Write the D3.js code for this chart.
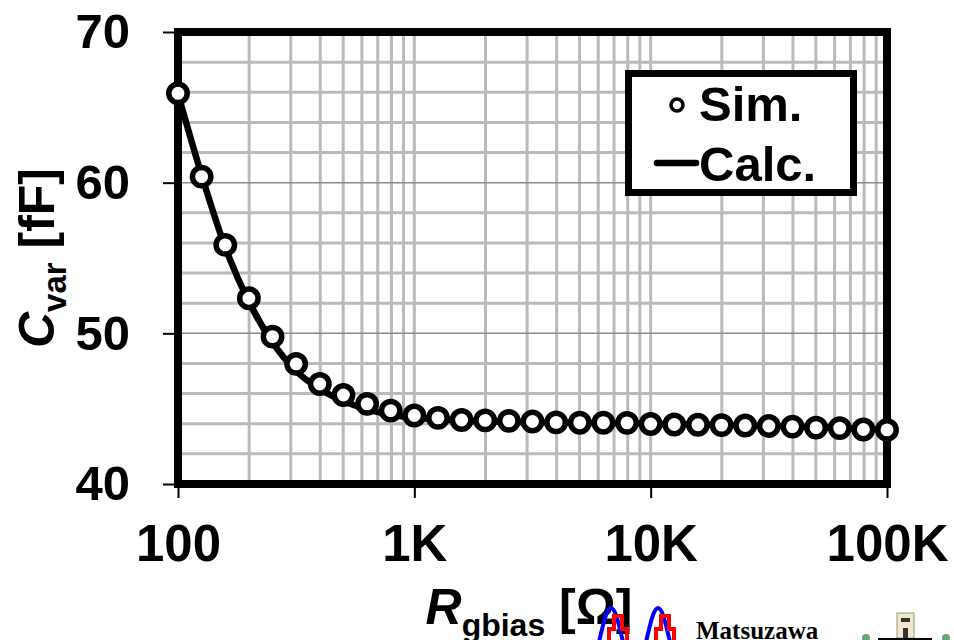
<!DOCTYPE html>
<html>
<head>
<meta charset="utf-8">
<script src="https://cdn.jsdelivr.net/npm/d3@7"></script>
<style>
  body { margin: 0; background: #fff; }
  svg { display: block; font-family: "Liberation Sans", Arial, sans-serif; font-weight: bold; }
</style>
</head>
<body>
<svg id="chart" width="954" height="640"></svg>
<script>
// R_gbias sweep [ohm], 10 points per decade
const rgbias = [100, 125.9, 158.5, 199.5, 251.2, 316.2, 398.1, 501.2, 631.0, 794.3,
  1000, 1259, 1585, 1995, 2512, 3162, 3981, 5012, 6310, 7943,
  10000, 12589, 15849, 19953, 25119, 31623, 39811, 50119, 63096, 79433, 100000];

// simulated Cvar [fF]
const simCvar = [65.93, 60.40, 55.87, 52.33, 49.78, 47.97, 46.64, 45.91, 45.32, 44.87,
  44.55, 44.39, 44.25, 44.22, 44.19, 44.15, 44.09, 44.07, 44.07, 44.06,
  43.98, 43.95, 43.93, 43.91, 43.88, 43.85, 43.81, 43.74, 43.71, 43.62, 43.59];

// calculated Cvar [fF]
const calcCvar = [65.9, 60.5, 55.7, 52.1, 49.4, 47.5, 46.3, 45.5, 44.95, 44.6,
  44.4, 44.3, 44.2, 44.15, 44.12, 44.1, 44.08, 44.06, 44.05, 44.03,
  44.0, 43.97, 43.95, 43.92, 43.88, 43.85, 43.81, 43.76, 43.72, 43.66, 43.6];

const xTicks = [100, 1000, 10000, 100000];
const xTickLabels = ["100", "1K", "10K", "100K"];
const yTicks = [40, 50, 60, 70];

const svg = d3.select("#chart");

const plotLeft = 178, plotRight = 887, plotTop = 32, plotBottom = 484;

const x = d3.scaleLog().domain([100, 100000]).range([plotLeft, plotRight]);
const y = d3.scaleLinear().domain([40, 70]).range([plotBottom, plotTop]);

// grid
let gridX = [];
[100, 1000, 10000].forEach(function (d) {
  for (let k = 2; k <= 9; k++) gridX.push(d * k);
});
gridX = gridX.concat([1000, 10000]);

const gridY = d3.range(42, 70, 2).filter(v => v % 10 !== 0);
const gridYMajor = [50, 60];

const grid = svg.append("g");
grid.selectAll("line.gx")
  .data(gridX)
  .join("line")
  .attr("class", "gx")
  .attr("x1", d => x(d)).attr("x2", d => x(d))
  .attr("y1", plotTop).attr("y2", plotBottom)
  .style("stroke", "#bababa")
  .style("stroke-width", 3);

grid.selectAll("line.gy")
  .data(gridY)
  .join("line")
  .attr("class", "gy")
  .attr("x1", plotLeft).attr("x2", plotRight)
  .attr("y1", d => y(d)).attr("y2", d => y(d))
  .style("stroke", "#bababa")
  .style("stroke-width", 3);

grid.selectAll("line.gym")
  .data(gridYMajor)
  .join("line")
  .attr("class", "gym")
  .attr("x1", plotLeft).attr("x2", plotRight)
  .attr("y1", d => y(d)).attr("y2", d => y(d))
  .style("stroke", "#8a8a8a")
  .style("stroke-width", 1.5);

// axes
const xAxis = d3.axisBottom(x)
  .tickValues(xTicks)
  .tickFormat((d, i) => xTickLabels[i])
  .tickSize(14)
  .tickSizeOuter(0)
  .tickPadding(27);

const yAxis = d3.axisLeft(y)
  .tickValues(yTicks)
  .tickFormat(d3.format("d"))
  .tickSize(15)
  .tickSizeOuter(0)
  .tickPadding(33);

const gx = svg.append("g")
  .attr("transform", "translate(0," + plotBottom + ")")
  .call(xAxis);
gx.select(".domain").remove();
gx.selectAll(".tick line").style("stroke", "#000").style("stroke-width", 2);
gx.selectAll(".tick text")
  .style("font-size", "51px")
  .style("font-family", "'Liberation Sans', Arial, sans-serif")
  .style("font-weight", "bold")
  .style("fill", "#000");

const gy = svg.append("g")
  .attr("transform", "translate(" + plotLeft + ",0)")
  .call(yAxis);
gy.select(".domain").remove();
gy.selectAll(".tick line").style("stroke", "#000").style("stroke-width", 2);
gy.selectAll(".tick text")
  .style("font-size", "49px")
  .style("font-family", "'Liberation Sans', Arial, sans-serif")
  .style("font-weight", "bold")
  .style("fill", "#000");

// plot frame
svg.append("rect")
  .attr("x", plotLeft).attr("y", plotTop)
  .attr("width", plotRight - plotLeft).attr("height", plotBottom - plotTop)
  .style("fill", "none")
  .style("stroke", "#000")
  .style("stroke-width", 8);

// calc line
const line = d3.line()
  .x((d, i) => x(rgbias[i]))
  .y(d => y(d))
  .curve(d3.curveMonotoneX);

svg.append("path")
  .datum(calcCvar)
  .attr("d", line)
  .style("fill", "none")
  .style("stroke", "#000")
  .style("stroke-width", 6.5)
  .style("stroke-linejoin", "round");

// sim points
svg.selectAll("circle.sim")
  .data(simCvar)
  .join("circle")
  .attr("class", "sim")
  .attr("cx", (d, i) => x(rgbias[i]))
  .attr("cy", d => y(d))
  .attr("r", 9.2)
  .style("fill", "#fff")
  .style("stroke", "#000")
  .style("stroke-width", 5.5);

// legend
const lg = svg.append("g");
lg.append("rect")
  .attr("x", 628.5).attr("y", 73.5)
  .attr("width", 225).attr("height", 119)
  .style("fill", "#fff")
  .style("stroke", "#000")
  .style("stroke-width", 7);
lg.append("circle")
  .attr("cx", 677).attr("cy", 105)
  .attr("r", 6)
  .style("fill", "#fff")
  .style("stroke", "#000")
  .style("stroke-width", 3.5);
lg.append("text")
  .attr("x", 699).attr("y", 121)
  .style("font-size", "49px")
  .text("Sim.");
lg.append("line")
  .attr("x1", 657).attr("x2", 696)
  .attr("y1", 163).attr("y2", 163)
  .style("stroke", "#000")
  .style("stroke-width", 6.5)
  .style("stroke-linecap", "round");
lg.append("text")
  .attr("x", 699).attr("y", 181)
  .style("font-size", "49px")
  .text("Calc.");

// axis titles
const xt = svg.append("text")
  .attr("x", 529).attr("y", 624)
  .attr("text-anchor", "middle")
  .style("font-size", "50px");
xt.append("tspan").style("font-style", "italic").text("R");
xt.append("tspan").attr("dy", 12).style("font-size", "32px").text("gbias");
xt.append("tspan").attr("dy", -12).text("\u00a0[\u03a9]");

const yt = svg.append("text")
  .attr("transform", "translate(54,258) rotate(-90)")
  .attr("text-anchor", "middle")
  .style("font-size", "50px");
yt.append("tspan").style("font-style", "italic").text("C");
yt.append("tspan").attr("dy", 12).style("font-size", "33px").text("var");
yt.append("tspan").attr("dy", -12).text("\u00a0[fF]");

// lab logo at the bottom
const logo = svg.append("g");
logo.append("path")
  .attr("d", "M599,642 C604,620 607,608 611,608 C615,608 618,620 623,642 M646,642 C651,620 654,608 658,608 C662,608 665,620 670,642")
  .style("fill", "none")
  .style("stroke", "#0000ff")
  .style("stroke-width", 4);
logo.append("path")
  .attr("d", "M609,642 V629 H614 V616 H622 V629 H627 V642 M656,642 V629 H661 V616 H669 V629 H674 V642")
  .style("fill", "none")
  .style("stroke", "#ff0000")
  .style("stroke-width", 4);
logo.append("text")
  .attr("x", 696).attr("y", 639)
  .style("font-family", "'Liberation Serif', 'Times New Roman', serif")
  .style("font-size", "25px")
  .text("Matsuzawa");
logo.append("rect")
  .attr("x", 897).attr("y", 613).attr("width", 17).attr("height", 25)
  .style("fill", "#efe8cc")
  .style("stroke", "#9a9580")
  .style("stroke-width", 1);
logo.append("rect")
  .attr("x", 901).attr("y", 618).attr("width", 9).attr("height", 4)
  .style("fill", "#333");
logo.append("rect")
  .attr("x", 903).attr("y", 628).attr("width", 5).attr("height", 10)
  .style("fill", "#333");
logo.append("line")
  .attr("x1", 878).attr("x2", 932)
  .attr("y1", 639).attr("y2", 639)
  .style("stroke", "#000")
  .style("stroke-width", 2);
logo.selectAll("circle.tree")
  .data([866, 946])
  .join("circle")
  .attr("class", "tree")
  .attr("cx", d => d).attr("cy", 638)
  .attr("r", 4)
  .style("fill", "#6aa86a");
</script>
</body>
</html>
